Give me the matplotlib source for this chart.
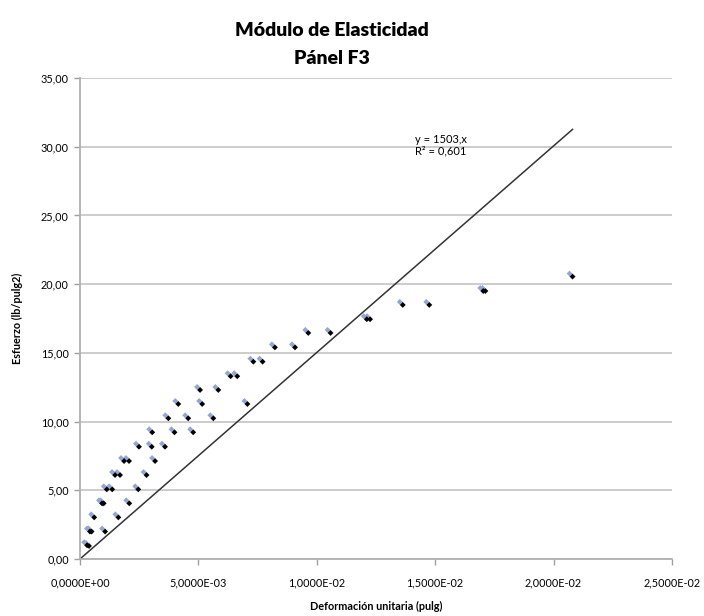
import matplotlib
matplotlib.use("Agg")
import matplotlib.pyplot as plt
import matplotlib.transforms as mtransforms
from matplotlib.ticker import FuncFormatter, MultipleLocator
import numpy as np

plt.rcParams["font.family"] = ["Lato", "DejaVu Sans"]

# Datos: deformacion unitaria (pulg) y esfuerzo (lb/pulg2)
deformacion = [
    0.00030, 0.00038,
    0.00042, 0.00049, 0.00106,
    0.00060, 0.00162,
    0.00093, 0.00100, 0.00208,
    0.00113, 0.00136, 0.00246,
    0.00148, 0.00169, 0.00281,
    0.00186, 0.00207, 0.00317,
    0.00249, 0.00303, 0.00359,
    0.00305, 0.00399, 0.00478,
    0.00373, 0.00457, 0.00563,
    0.00415, 0.00516, 0.00707,
    0.00507, 0.00584,
    0.00636, 0.00664,
    0.00732, 0.00771,
    0.00823, 0.00908,
    0.00964, 0.01058,
    0.01211, 0.01225,
    0.01363, 0.01475,
    0.01703, 0.01712,
    0.02080,
]
esfuerzo = [
    1.00, 0.95,
    2.00, 2.00, 2.00,
    3.03, 3.03,
    4.05, 4.05, 4.05,
    5.07, 5.07, 5.07,
    6.11, 6.11, 6.11,
    7.13, 7.13, 7.13,
    8.17, 8.17, 8.17,
    9.22, 9.22, 9.22,
    10.24, 10.24, 10.24,
    11.28, 11.28, 11.28,
    12.30, 12.30,
    13.30, 13.30,
    14.36, 14.36,
    15.40, 15.40,
    16.45, 16.45,
    17.45, 17.45,
    18.49, 18.49,
    19.50, 19.50,
    20.55,
]
pendiente = 1503
r2 = "0,601"

fig = plt.figure(figsize=(7.04, 6.16), dpi=100)
ax = fig.add_axes([80 / 704, 1 - 559 / 616, 592 / 704, 481 / 616])

# sombra azul desplazada arriba a la izquierda
sombra = mtransforms.offset_copy(ax.transData, fig=fig, x=-3, y=3, units="dots")
ax.scatter(deformacion, esfuerzo, marker="D", s=9, color="#93a5d8",
           edgecolors="none", transform=sombra, zorder=3)
ax.scatter(deformacion, esfuerzo, marker="D", s=9, color="black",
           edgecolors="none", zorder=4)

# linea de tendencia por el origen
xt = np.array([0, max(deformacion)])
ax.plot(xt, pendiente * xt, color="#333333", lw=1.1, zorder=2)

ax.text(0.01415, 30.1, f"y = {pendiente},x\nR² = {r2}", fontsize=8,
        linespacing=1.1, va="center", ha="left")

ax.set_xlim(0, 0.025)
ax.set_ylim(0, 35)
ax.xaxis.set_major_locator(MultipleLocator(0.005))
ax.yaxis.set_major_locator(MultipleLocator(5))
ax.xaxis.set_major_formatter(FuncFormatter(lambda v, p: f"{v:.4E}".replace(".", ",")))
ax.yaxis.set_major_formatter(FuncFormatter(lambda v, p: f"{v:.2f}".replace(".", ",")))
ax.tick_params(labelsize=7.8, color="#a0a0a0", length=4, width=1)
ax.tick_params(axis="x", pad=9)
ax.tick_params(axis="y", pad=4)

ax.grid(axis="y", color="#c8c8c8", lw=1.3)
ax.set_axisbelow(True)
for s in ["top", "right"]:
    ax.spines[s].set_visible(False)
for s in ["left", "bottom"]:
    ax.spines[s].set_color("#b0b0b0")
    ax.spines[s].set_linewidth(1.3)

ax.set_xlabel("Deformación unitaria (pulg)", fontsize=7.8, fontweight="bold", labelpad=9)
ax.set_ylabel("Esfuerzo (lb/pulg2)", fontsize=7.8, fontweight="bold", labelpad=13)

fig.text(332 / 704, 1 - 30 / 616, "Módulo de Elasticidad", fontsize=14,
         fontweight="heavy", ha="center", va="center")
fig.text(332 / 704, 1 - 58 / 616, "Pánel F3", fontsize=14,
         fontweight="heavy", ha="center", va="center")

fig.savefig("out.png", dpi=100)
